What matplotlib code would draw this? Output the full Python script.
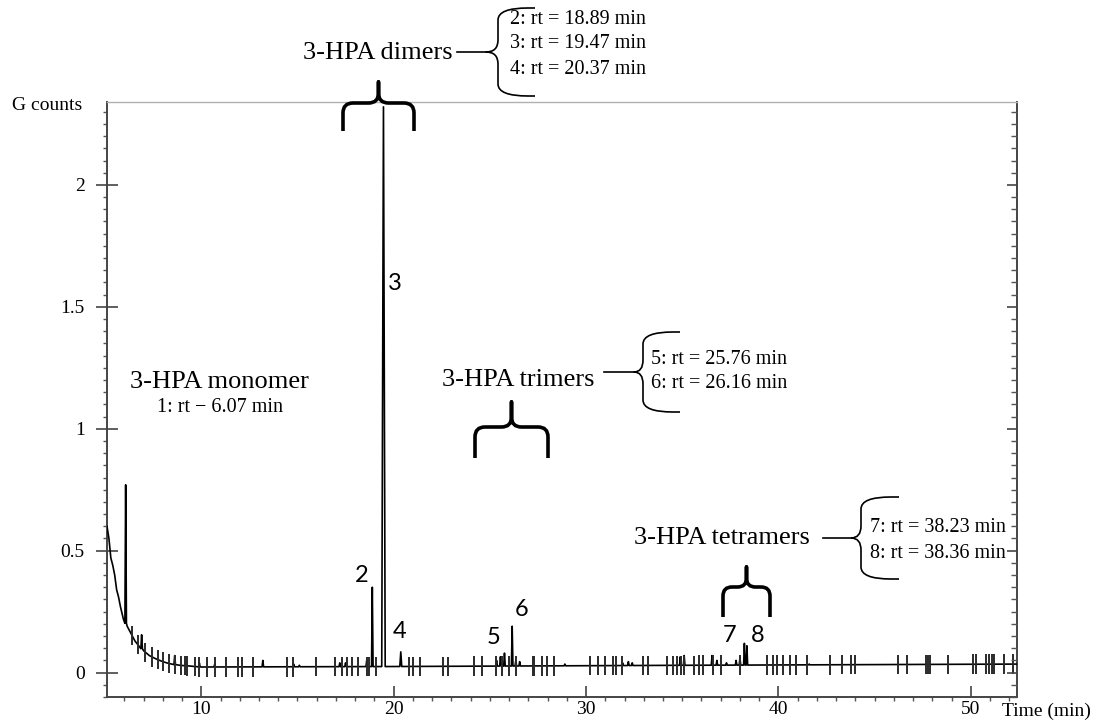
import numpy as np
import matplotlib
matplotlib.use("Agg")
import matplotlib.pyplot as plt
from matplotlib.path import Path
from matplotlib.patches import PathPatch
from matplotlib.ticker import MultipleLocator

# ── data ─────────────────────────────────────────────────────────────────────
# baseline (solvent tail + flat baseline), time in min, signal in G counts
base_t = [5.1, 5.2, 5.3, 5.4, 5.5, 5.6, 5.7, 5.8, 5.95, 6.15, 6.35, 6.55, 6.75,
          7.0, 7.3, 7.6, 7.9, 8.2, 8.5, 8.9, 9.4, 10.0, 20.0, 35.0, 52.4]
base_v = [0.60, 0.55, 0.47, 0.44, 0.40, 0.34, 0.31, 0.27, 0.22, 0.19, 0.16, 0.13,
          0.11, 0.09, 0.07, 0.058, 0.048, 0.040, 0.034, 0.030, 0.027, 0.023,
          0.025, 0.030, 0.035]

# labelled peaks
peak_rt = [6.07, 18.89, 19.47, 20.37, 25.76, 26.16, 38.23, 38.36]
peak_h = [0.77, 0.35, 2.32, 0.085, 0.08, 0.19, 0.12, 0.11]
peak_w = [0.04, 0.04, 0.09, 0.05, 0.04, 0.04, 0.04, 0.04]
peak_lbl = ["", "2", "3", "4", "5", "6", "7", "8"]

# small unlabelled bumps
bump_t = [6.9, 8.62, 9.2, 9.9, 10.7, 13.2, 14.8, 15.1, 17.2, 17.5, 18.6,
          25.35, 25.55, 26.35, 26.55, 28.9, 31.9, 32.2, 32.4, 34.9, 35.1,
          36.55, 36.8, 37.3, 37.8, 38.0, 41.6]
bump_h = [0.155, 0.07, 0.04, 0.04, 0.035, 0.05, 0.035, 0.03, 0.04, 0.04, 0.05,
          0.05, 0.065, 0.05, 0.045, 0.035, 0.04, 0.045, 0.04, 0.065, 0.07,
          0.07, 0.05, 0.04, 0.05, 0.06, 0.035]

# integration event marks on the trace
mark_t = [6.4, 6.7, 7.1, 7.45, 7.75, 8.0, 8.3, 8.65, 8.95, 9.15, 9.27, 9.65,
          9.9, 10.3, 10.7, 11.3, 11.9, 12.1, 12.7, 14.45, 14.75, 15.95, 16.95,
          17.3, 17.55, 17.86, 18.13, 18.6, 18.7, 19.1, 20.78, 21.0, 21.35,
          22.55, 22.83, 24.2, 24.6, 25.3, 25.65, 25.98, 26.38, 27.24, 27.32,
          27.7, 27.97, 28.33, 30.18, 30.62, 31.0, 31.4, 31.57, 31.88, 32.97,
          33.2, 34.2, 34.5, 34.72, 34.93, 35.1, 35.6, 35.85, 36.1, 36.6, 37.0,
          38.0, 39.4, 39.7, 39.95, 40.25, 40.6, 40.9, 41.5, 42.7, 43.3, 43.75,
          43.96, 46.2, 46.7, 47.66, 47.78, 47.9, 48.8, 50.1, 50.26, 50.78,
          50.95, 51.1, 51.22, 51.7, 52.2]

W, H = 1094, 725


def fig_xy(x, y):
    return x / W, 1 - y / H


def brace(fig, p0, p1, arm, tip, ch, cs, lw, side=1):
    """curly brace between two pixel points, tip bulging to one side"""
    p0, p1 = np.array(p0, float), np.array(p1, float)
    L = np.linalg.norm(p1 - p0)
    u = (p1 - p0) / L
    v = side * np.array([u[1], -u[0]])
    m = L / 2
    ct = min(ch, tip - arm)

    def P(s, h):
        q = p0 + s * u + h * v
        return fig_xy(*q)

    verts = [P(0, 0), P(0, arm - ch), P(0, arm), P(cs, arm), P(m - cs, arm),
             P(m, arm), P(m, arm + ct), P(m, tip), P(m, arm + ct), P(m, arm),
             P(m + cs, arm), P(L - cs, arm), P(L, arm), P(L, arm - ch), P(L, 0)]
    codes = [Path.MOVETO, Path.LINETO, Path.CURVE3, Path.CURVE3, Path.LINETO,
             Path.CURVE3, Path.CURVE3, Path.LINETO, Path.LINETO, Path.CURVE3,
             Path.CURVE3, Path.LINETO, Path.CURVE3, Path.CURVE3, Path.LINETO]
    fig.patches.append(PathPatch(Path(verts, codes), fill=False, lw=lw,
                                 ec="black", transform=fig.transFigure,
                                 capstyle="butt", joinstyle="round"))


def line(fig, a, b, lw=1.2):
    xa, ya = fig_xy(*a)
    xb, yb = fig_xy(*b)
    fig.add_artist(plt.Line2D([xa, xb], [ya, yb], lw=lw, color="black",
                              transform=fig.transFigure))


def ftext(fig, x, y, s, size, ha="left", family="Liberation Serif"):
    fx, fy = fig_xy(x, y)
    fig.text(fx, fy, s, fontsize=size, ha=ha, va="center", family=family)


# ── build trace ──────────────────────────────────────────────────────────────
tx = list(base_t)
ty = list(base_v)
for rt, h, w in zip(peak_rt + bump_t, peak_h + bump_h,
                    peak_w + [0.04] * len(bump_t)):
    b = np.interp(rt, base_t, base_v)
    tx += [rt - w, rt, rt + w]
    ty += [b, h, b]
order = np.argsort(tx, kind="stable")
tx = np.array(tx)[order]
ty = np.array(ty)[order]

fig = plt.figure(figsize=(W / 100, H / 100), dpi=100)
ax = fig.add_axes([107 / W, 1 - 697 / H, (1017 - 107) / W, (697 - 102) / H])

ax.plot(tx, ty, color="black", lw=1.2, zorder=3)
mark_y = np.interp(mark_t, base_t, base_v)
ax.vlines(mark_t, mark_y - 0.04, mark_y + 0.04, color="#2a2a2a", lw=1.4,
          zorder=4)

ax.set_xlim(5.1, 52.4)
ax.set_ylim(-0.1, 2.34)

ax.set_xticks([10, 20, 30, 40, 50])
ax.xaxis.set_minor_locator(MultipleLocator(1))
ax.set_yticks([0, 0.5, 1, 1.5, 2])
ax.set_yticklabels(["0", "0.5", "1", "1.5", "2"])
ax.yaxis.set_minor_locator(MultipleLocator(0.05))
ax.tick_params(axis="x", which="major", direction="in", length=8, width=1.2,
               labelsize=14, pad=3, color="#444444")
ax.tick_params(axis="x", which="minor", direction="out", length=3, width=1,
               color="#555555")
ax.tick_params(axis="y", which="major", direction="inout", length=16,
               width=1.2, labelsize=14, pad=8, color="#444444")
ax.tick_params(axis="y", which="minor", direction="out", length=3, width=1,
               color="#555555")
for lab in ax.get_xticklabels() + ax.get_yticklabels():
    lab.set_family("Liberation Serif")

for s in ["left", "bottom", "right"]:
    ax.spines[s].set_color("#444444")
    ax.spines[s].set_linewidth(1.4)
ax.spines["top"].set_color("#b0b0b0")
ax.spines["top"].set_linewidth(1.0)

ax2 = ax.twinx()
ax2.set_ylim(ax.get_ylim())
ax2.set_yticks([0, 0.5, 1, 1.5, 2])
ax2.yaxis.set_minor_locator(MultipleLocator(0.05))
ax2.tick_params(axis="y", which="major", direction="in", length=7, width=1.2,
                labelright=False, color="#444444")
ax2.tick_params(axis="y", which="minor", direction="in", length=4, width=1,
                color="#555555")
for s in ax2.spines.values():
    s.set_visible(False)

# ── labels ───────────────────────────────────────────────────────────────────
ftext(fig, 12, 105, "G counts", 14)
ftext(fig, 1002, 711, "Time (min)", 14)

lbl_xy = [None, (362, 575), (395, 283), (400, 632), (494, 637), (522, 610),
          (730, 635), (758, 635)]
for s, p in zip(peak_lbl, lbl_xy):
    if s:
        ftext(fig, p[0], p[1], s, 17, ha="center", family="Lato")

# monomer
ftext(fig, 219, 382, "3-HPA monomer", 19, ha="center")
ftext(fig, 220, 408, "1: rt \u2212 6.07 min", 14.5, ha="center")

# dimers
ftext(fig, 378, 53, "3-HPA dimers", 19, ha="center")
line(fig, (457, 52), (486, 52))
brace(fig, (535, 8), (535, 96), 37, 49, 30, 12, 1.2, side=-1)
for i, s in enumerate(["2: rt = 18.89 min", "3: rt = 19.47 min",
                       "4: rt = 20.37 min"]):
    ftext(fig, 510, 19 + 25 * i, s, 14.5)
brace(fig, (343, 131), (414, 131), 28, 49, 10, 10, 2.6, side=1)

# trimers
ftext(fig, 518, 380, "3-HPA trimers", 19, ha="center")
line(fig, (604, 372), (634, 372))
brace(fig, (680, 332), (680, 412), 37, 46, 30, 12, 1.2, side=-1)
for i, s in enumerate(["5: rt = 25.76 min", "6: rt = 26.16 min"]):
    ftext(fig, 651, 360 + 24 * i, s, 14.5)
brace(fig, (475, 458), (548, 458), 31, 56, 10, 10, 2.6, side=1)

# tetramers
ftext(fig, 810, 538, "3-HPA tetramers", 19, ha="right")
line(fig, (823, 538), (850, 538))
brace(fig, (899, 497), (899, 579), 38, 48, 30, 12, 1.2, side=-1)
for i, s in enumerate(["7: rt = 38.23 min", "8: rt = 38.36 min"]):
    ftext(fig, 870, 527 + 26 * i, s, 14.5)
brace(fig, (723, 617), (770, 617), 30, 50, 9, 9, 2.6, side=1)

fig.savefig("out.png", dpi=100)
